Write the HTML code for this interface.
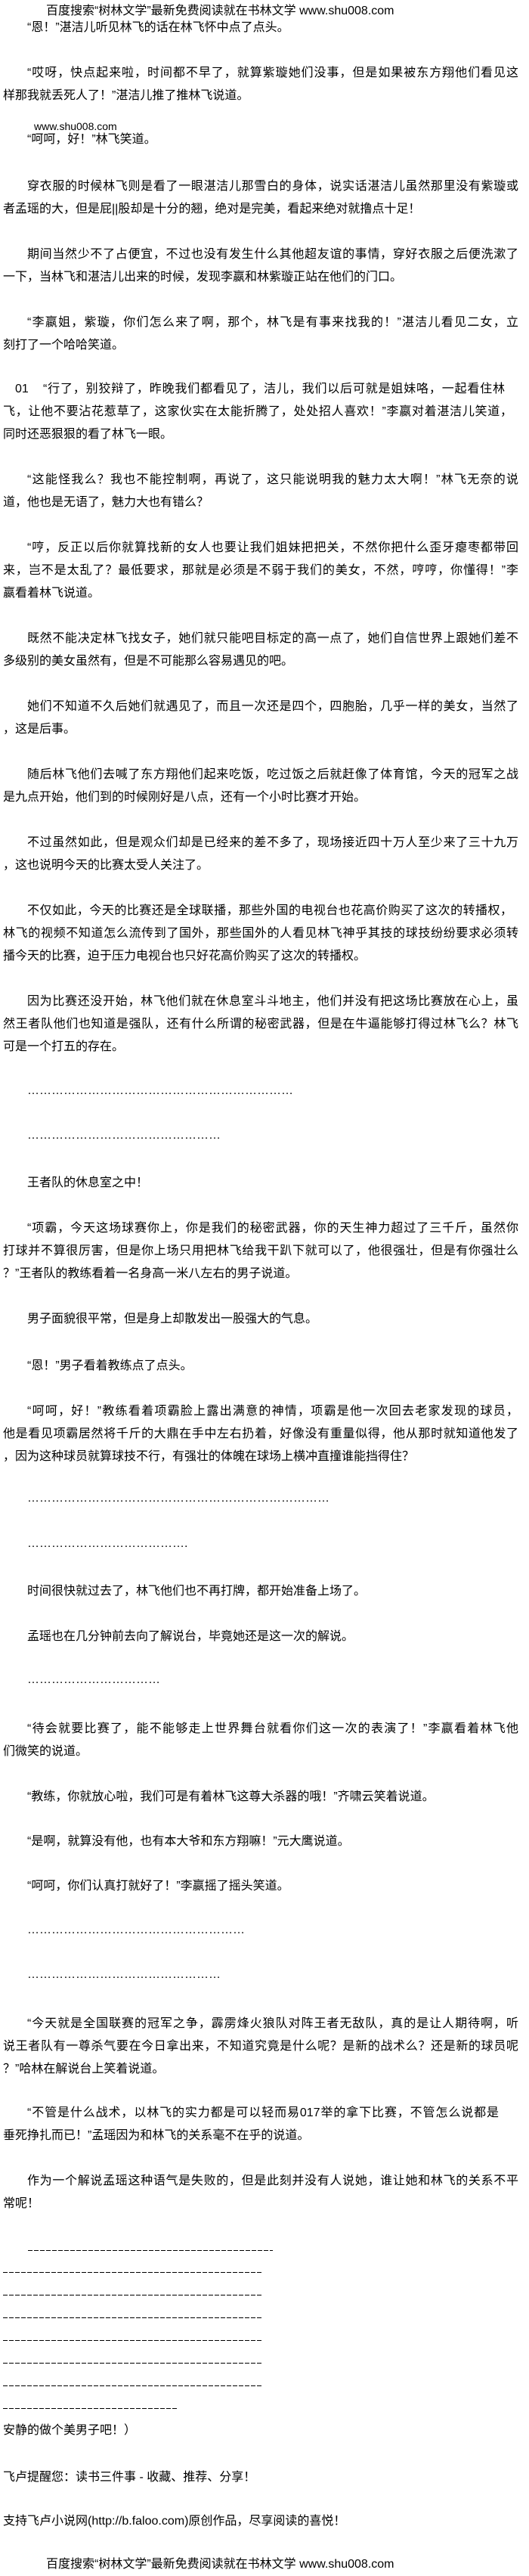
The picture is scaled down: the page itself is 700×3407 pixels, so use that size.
<!DOCTYPE html>
<html><head><meta charset="utf-8">
<style>
html,body{margin:0;padding:0;background:#fff;}
body{width:700px;height:3404px;position:relative;overflow:hidden;
font-family:"Liberation Sans","Noto Sans CJK SC",sans-serif;font-size:16px;color:#000;}
.l{position:absolute;height:30px;line-height:30px;white-space:nowrap;}
.i{left:36px;}
.n{left:4px;}
.fi{left:36px;width:650px;text-align:justify;text-align-last:justify;}
.fn{left:4px;width:682px;text-align:justify;text-align-last:justify;}
.d{font-family:"Liberation Sans",sans-serif;letter-spacing:0;}
.dash{position:absolute;height:1px;background:repeating-linear-gradient(to right,#000 0 6px,transparent 6px 8px);}
</style></head><body>
<div class="l" style="top:0px;left:61px">百度搜索“树林文学”最新免费阅读就在书林文学 www.shu008.com</div>
<div class="l i" style="top:22px">“恩！”湛洁儿听见林飞的话在林飞怀中点了点头。</div>
<div class="l fi" style="top:82px">“哎呀，快点起来啦，时间都不早了，就算紫璇她们没事，但是如果被东方翔他们看见这</div>
<div class="l n" style="top:112px">样那我就丢死人了！”湛洁儿推了推林飞说道。</div>
<div class="l" style="top:155px;left:45px;font-size:14px;line-height:24px;height:24px">www.shu008.com</div>
<div class="l i" style="top:170px">“呵呵，好！”林飞笑道。</div>
<div class="l fi" style="top:232px">穿衣服的时候林飞则是看了一眼湛洁儿那雪白的身体，说实话湛洁儿虽然那里没有紫璇或</div>
<div class="l n" style="top:262px">者孟瑶的大，但是屁||股却是十分的翘，绝对是完美，看起来绝对就撸点十足！</div>
<div class="l fi" style="top:322px">期间当然少不了占便宜，不过也没有发生什么其他超友谊的事情，穿好衣服之后便洗漱了</div>
<div class="l n" style="top:352px">一下，当林飞和湛洁儿出来的时候，发现李嬴和林紫璇正站在他们的门口。</div>
<div class="l fi" style="top:412px">“李嬴姐，紫璇，你们怎么来了啊，那个，林飞是有事来找我的！”湛洁儿看见二女，立</div>
<div class="l n" style="top:442px">刻打了一个哈哈笑道。</div>
<div class="l" style="top:500px;left:20px">01</div>
<div class="l" style="top:500px;left:57px;width:611px;text-align:justify;text-align-last:justify">“行了，别狡辩了，昨晚我们都看见了，洁儿，我们以后可就是姐妹咯，一起看住林</div>
<div class="l n" style="top:530px;width:674px;text-align:justify;text-align-last:justify">飞，让他不要沾花惹草了，这家伙实在太能折腾了，处处招人喜欢！”李嬴对着湛洁儿笑道，</div>
<div class="l n" style="top:560px">同时还恶狠狠的看了林飞一眼。</div>
<div class="l fi" style="top:620px">“这能怪我么？我也不能控制啊，再说了，这只能说明我的魅力太大啊！”林飞无奈的说</div>
<div class="l n" style="top:650px">道，他也是无语了，魅力大也有错么？</div>
<div class="l fi" style="top:710px">“哼，反正以后你就算找新的女人也要让我们姐妹把把关，不然你把什么歪牙瘪枣都带回</div>
<div class="l fn" style="top:740px">来，岂不是太乱了？最低要求，那就是必须是不弱于我们的美女，不然，哼哼，你懂得！”李</div>
<div class="l n" style="top:770px">嬴看着林飞说道。</div>
<div class="l fi" style="top:830px">既然不能决定林飞找女子，她们就只能吧目标定的高一点了，她们自信世界上跟她们差不</div>
<div class="l n" style="top:860px">多级别的美女虽然有，但是不可能那么容易遇见的吧。</div>
<div class="l fi" style="top:920px">她们不知道不久后她们就遇见了，而且一次还是四个，四胞胎，几乎一样的美女，当然了</div>
<div class="l n" style="top:950px">，这是后事。</div>
<div class="l fi" style="top:1010px">随后林飞他们去喊了东方翔他们起来吃饭，吃过饭之后就赶像了体育馆，今天的冠军之战</div>
<div class="l n" style="top:1040px">是九点开始，他们到的时候刚好是八点，还有一个小时比赛才开始。</div>
<div class="l fi" style="top:1100px">不过虽然如此，但是观众们却是已经来的差不多了，现场接近四十万人至少来了三十九万</div>
<div class="l n" style="top:1130px">，这也说明今天的比赛太受人关注了。</div>
<div class="l" style="top:1190px;left:36px;width:642px;text-align:justify;text-align-last:justify">不仅如此，今天的比赛还是全球联播，那些外国的电视台也花高价购买了这次的转播权，</div>
<div class="l fn" style="top:1220px">林飞的视频不知道怎么流传到了国外，那些国外的人看见林飞神乎其技的球技纷纷要求必须转</div>
<div class="l n" style="top:1250px">播今天的比赛，迫于压力电视台也只好花高价购买了这次的转播权。</div>
<div class="l fi" style="top:1310px">因为比赛还没开始，林飞他们就在休息室斗斗地主，他们并没有把这场比赛放在心上，虽</div>
<div class="l fn" style="top:1340px">然王者队他们也知道是强队，还有什么所谓的秘密武器，但是在牛逼能够打得过林飞么？林飞</div>
<div class="l n" style="top:1370px">可是一个打五的存在。</div>
<div class="l i d" style="top:1428px">…………………………………………………………</div>
<div class="l i d" style="top:1487px">…………………………………………</div>
<div class="l i" style="top:1550px">王者队的休息室之中！</div>
<div class="l fi" style="top:1610px">“项霸，今天这场球赛你上，你是我们的秘密武器，你的天生神力超过了三千斤，虽然你</div>
<div class="l fn" style="top:1640px">打球并不算很厉害，但是你上场只用把林飞给我干趴下就可以了，他很强壮，但是有你强壮么</div>
<div class="l n" style="top:1670px">？”王者队的教练看着一名身高一米八左右的男子说道。</div>
<div class="l i" style="top:1730px">男子面貌很平常，但是身上却散发出一股强大的气息。</div>
<div class="l i" style="top:1792px">“恩！”男子看着教练点了点头。</div>
<div class="l fi" style="top:1852px">“呵呵，好！”教练看着项霸脸上露出满意的神情，项霸是他一次回去老家发现的球员，</div>
<div class="l fn" style="top:1882px">他是看见项霸居然将千斤的大鼎在手中左右扔着，好像没有重量似得，他从那时就知道他发了</div>
<div class="l n" style="top:1912px">，因为这种球员就算球技不行，有强壮的体魄在球场上横冲直撞谁能挡得住？</div>
<div class="l i d" style="top:1967px">…………………………………………………………………</div>
<div class="l i d" style="top:2027px">………………………………….</div>
<div class="l i" style="top:2090px">时间很快就过去了，林飞他们也不再打牌，都开始准备上场了。</div>
<div class="l i" style="top:2150px">孟瑶也在几分钟前去向了解说台，毕竟她还是这一次的解说。</div>
<div class="l i d" style="top:2207px">……………………………</div>
<div class="l fi" style="top:2272px">“待会就要比赛了，能不能够走上世界舞台就看你们这一次的表演了！”李嬴看着林飞他</div>
<div class="l n" style="top:2302px">们微笑的说道。</div>
<div class="l i" style="top:2362px">“教练，你就放心啦，我们可是有着林飞这尊大杀器的哦！”齐啸云笑着说道。</div>
<div class="l i" style="top:2421px">“是啊，就算没有他，也有本大爷和东方翔嘛！”元大鹰说道。</div>
<div class="l i" style="top:2480px">“呵呵，你们认真打就好了！”李嬴摇了摇头笑道。</div>
<div class="l i d" style="top:2538px">………………………………………………</div>
<div class="l i d" style="top:2597px">…………………………………………</div>
<div class="l fi" style="top:2662px">“今天就是全国联赛的冠军之争，霹雳烽火狼队对阵王者无敌队，真的是让人期待啊，听</div>
<div class="l fn" style="top:2692px">说王者队有一尊杀气要在今日拿出来，不知道究竟是什么呢？是新的战术么？还是新的球员呢</div>
<div class="l n" style="top:2722px">？”哈林在解说台上笑着说道。</div>
<div class="l" style="top:2780px;left:36px;width:624px;text-align:justify;text-align-last:justify">“不管是什么战术，以林飞的实力都是可以轻而易017举的拿下比赛，不管怎么说都是</div>
<div class="l n" style="top:2810px">垂死挣扎而已！”孟瑶因为和林飞的关系毫不在乎的说道。</div>
<div class="l fi" style="top:2870px">作为一个解说孟瑶这种语气是失败的，但是此刻并没有人说她，谁让她和林飞的关系不平</div>
<div class="l n" style="top:2900px">常呢！</div>
<div class="dash" style="top:2976px;left:37px;width:324px"></div>
<div class="dash" style="top:3005px;left:4px;width:342px"></div>
<div class="dash" style="top:3035px;left:4px;width:342px"></div>
<div class="dash" style="top:3065px;left:4px;width:342px"></div>
<div class="dash" style="top:3095px;left:4px;width:342px"></div>
<div class="dash" style="top:3125px;left:4px;width:342px"></div>
<div class="dash" style="top:3155px;left:4px;width:342px"></div>
<div class="dash" style="top:3185px;left:4px;width:232px"></div>
<div class="l n" style="top:3200px">安静的做个美男子吧！）</div>
<div class="l n" style="top:3262px">飞卢提醒您：读书三件事 - 收藏、推荐、分享！</div>
<div class="l n" style="top:3320px">支持飞卢小说网(http://b.faloo.com)原创作品，尽享阅读的喜悦！</div>
<div class="l" style="top:3377px;left:61px">百度搜索“树林文学”最新免费阅读就在书林文学 www.shu008.com</div>
</body></html>
